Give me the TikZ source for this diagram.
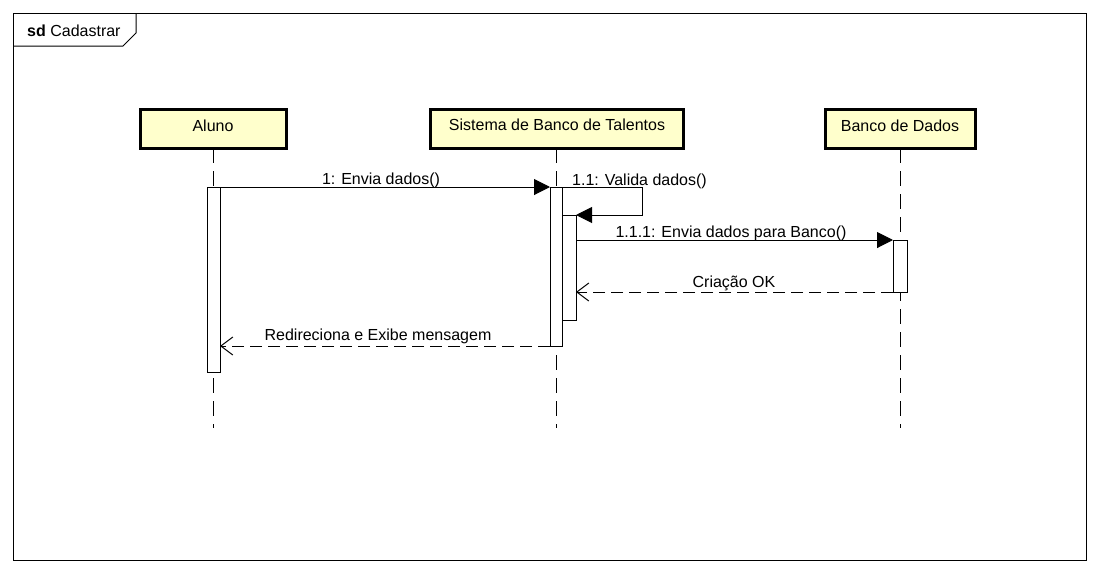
\documentclass[tikz,border=0pt]{standalone}
\usepackage{fontspec}
\setmainfont{Liberation Sans}
\usetikzlibrary{arrows.meta}
\definecolor{actfill}{HTML}{FFFFCC}
\begin{document}
\begin{tikzpicture}[x=1pt,y=-1pt,
  every node/.style={font=\fontsize{16}{19}\selectfont},
  actor/.style={draw,line width=3pt,fill=actfill,minimum height=39pt,inner sep=0pt,outer sep=0pt},
  actbar/.style={draw,line width=1pt,fill=white,inner sep=0pt,outer sep=0pt,minimum width=#1},
  lifeline/.style={line width=1pt,dash pattern=on 15pt off 8pt},
  msg/.style={line width=1pt,-{Triangle[length=16pt,width=16pt]}},
  ret/.style={line width=1pt,dash pattern=on 12pt off 6pt,-{Straight Barb[length=12pt,width=18pt,line width=1pt]}},
  lbl/.style={anchor=base,inner sep=0pt}
]
\useasboundingbox (0,0) rectangle (1100,574);
% frame
\draw[line width=1pt] (13,13) rectangle (1086,560);
\draw[line width=1pt] (13,46) -- (123,46) -- (136,33) -- (136,13);
\node[lbl,anchor=base west] (sd) at (27,36) {\textbf{sd} Cadastrar};
% actors
\node[actor,minimum width=146pt] (aluno) at (213,128.5) {};
\node[lbl] (alunot) at (213,131) {Aluno};
\node[actor,minimum width=253pt] (sis) at (557,128.5) {};
\node[lbl] (sist) at (557,130) {Sistema de Banco de Talentos};
\node[actor,minimum width=150pt] (bd) at (900,128.5) {};
\node[lbl] (bdt) at (900,131) {Banco de Dados};
% lifeline ends
\coordinate (aend) at (213,428);
\coordinate (send) at (556,428);
\coordinate (bend) at (900,428);
\draw[lifeline] (aluno.south -| aend) -- (aend);
\draw[lifeline] (sis.south -| send) -- (send);
\draw[lifeline] (bd.south -| bend) -- (bend);
% activations
\node[actbar=13pt,minimum height=185pt] (aact) at (213.5,279.5) {};
\node[actbar=12pt,minimum height=159pt] (sact) at (556,266.5) {};
\node[actbar=14pt,minimum height=105pt] (nact) at (569,267.5) {};
\node[actbar=14pt,minimum height=52pt] (bact) at (900,266) {};
% messages
\draw[msg] (aact.north east) -- (sact.north west);
\node[lbl] (m1) at (381,184) {1: Envia dados()};
\draw[msg] (sact.north east) -- ++(80,0) |- (nact.north east);
\node[lbl,anchor=base west] (m2) at (572,185) {1.1: Valida dados()};
\draw[msg] (nact.east |- bact.north west) -- (bact.north west);
\node[lbl] (m3) at (731,237) {1.1.1: Envia dados para Banco()};
\draw[ret] (bact.south west) -- (nact.east |- bact.south west);
\node[lbl] (m4) at (734,287) {Criação OK};
\draw[ret] (sact.south west) -- (aact.east |- sact.south west);
\node[lbl] (m5) at (378,340) {Redireciona e Exibe mensagem};
\end{tikzpicture}
\end{document}
